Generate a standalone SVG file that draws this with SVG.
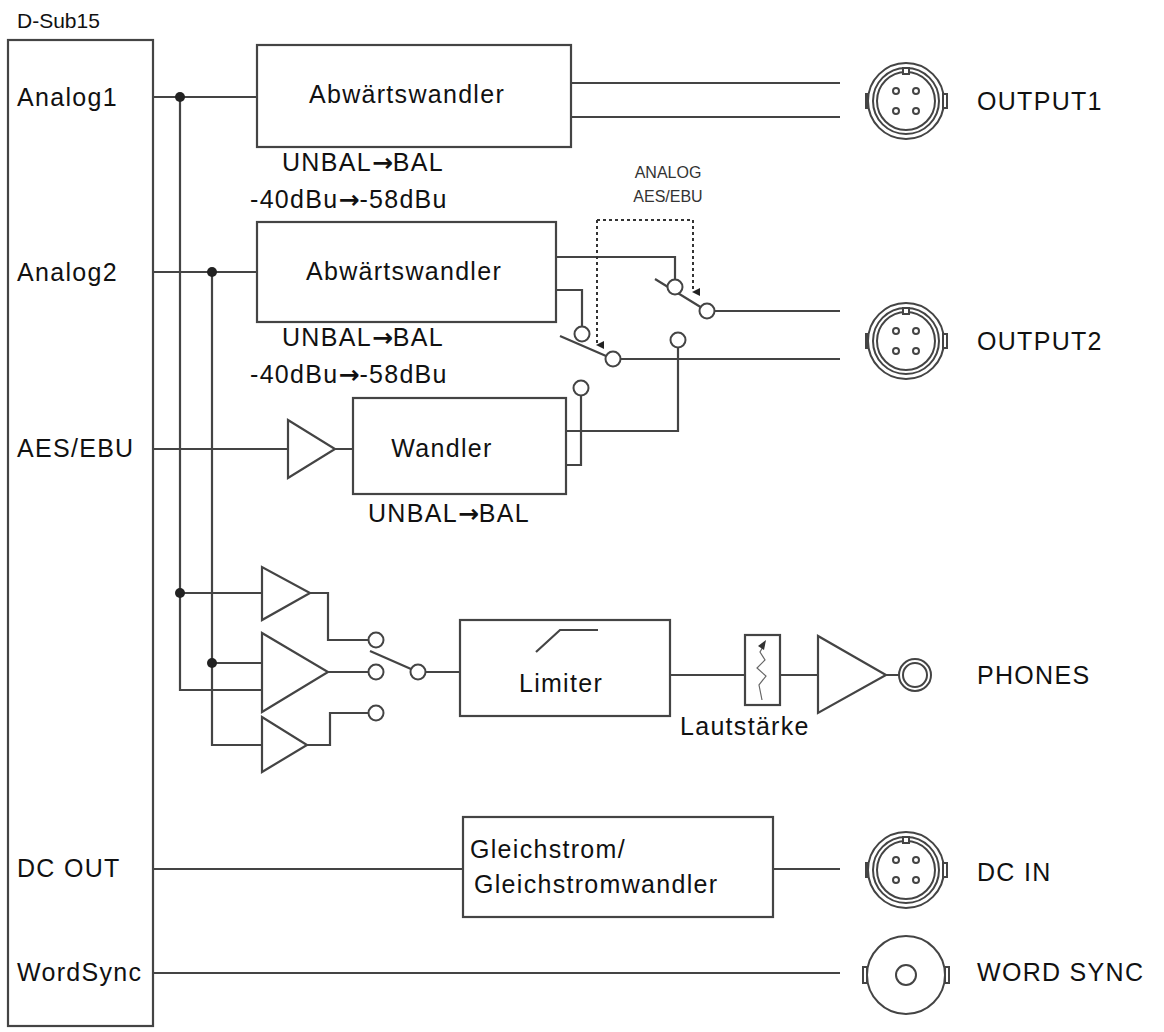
<svg xmlns="http://www.w3.org/2000/svg" width="1164" height="1032" viewBox="0 0 1164 1032">
<style>
.l{fill:none;stroke:#444;stroke-width:2.2}
.b{fill:#fff;stroke:#444;stroke-width:2.2}
.t{font-family:"Liberation Sans",Arial,sans-serif;font-size:25px;letter-spacing:1.3px;fill:#111}
.h{font-family:"Liberation Sans",Arial,sans-serif;font-size:21px;fill:#111}
.a{font-family:"DejaVu Sans",sans-serif;font-weight:bold;letter-spacing:0}
.s{font-family:"Liberation Sans",Arial,sans-serif;font-size:16px;fill:#333}
.c{fill:#fff;stroke:#444;stroke-width:2}
.d{fill:none;stroke:#333;stroke-width:2;stroke-dasharray:3 3}
</style>
<defs>
<marker id="ar" markerWidth="8" markerHeight="8" refX="4" refY="7" orient="auto" markerUnits="userSpaceOnUse" viewBox="0 0 8 8"><path d="M0,0 L8,0 L4,8 Z" fill="#222"/></marker>
<g id="xlr">
<circle r="38" class="c"/><circle r="33" class="c" stroke-width="1.5"/><circle r="29" class="c" stroke-width="1.2"/>
<rect x="-41" y="-8" width="4" height="16" fill="#444"/><rect x="37" y="-7" width="4" height="14" class="c" stroke-width="1.2"/>
<rect x="-3" y="-33" width="6" height="6" class="c" stroke-width="1.2"/>
<circle cx="-10" cy="-10" r="3" class="c" stroke-width="1.2"/><circle cx="10" cy="-10" r="3" class="c" stroke-width="1.2"/>
<circle cx="-10" cy="10" r="3" class="c" stroke-width="1.2"/><circle cx="10" cy="10" r="3" class="c" stroke-width="1.2"/>
</g>
</defs>
<g id="dsub">
<rect x="8" y="40" width="145" height="986" class="b"/>
<text x="17" y="28" class="h">D-Sub15</text>
<text x="17" y="106" class="t">Analog1</text>
<text x="17" y="281" class="t">Analog2</text>
<text x="17" y="457" class="t">AES/EBU</text>
<text x="17" y="877" class="t">DC OUT</text>
<text x="17" y="981" class="t">WordSync</text>
</g>
<g id="connectors">
<path class="l" d="M153,97H257 M180,97V690H262 M180,593H262 M153,272H257 M212,272V745H262 M212,663H262"/>
<circle cx="180" cy="97" r="5" fill="#222"/><circle cx="212" cy="272" r="5" fill="#222"/>
<circle cx="180" cy="593" r="5" fill="#222"/><circle cx="212" cy="663" r="5" fill="#222"/>
<path class="l" d="M571,83H840 M571,117H840"/>
<path class="l" d="M556,257H675V279 M556,290H582V327 M655,279L707,311 M715,311H840 M560,336L613,359 M621,359H840 M678,348V431H566 M581,396V465H566"/>
<path class="d" d="M597,220H693V292" marker-end="url(#ar)"/>
<path class="d" d="M597,220V345" marker-end="url(#ar)"/>
<path class="l" d="M153,449H288 M335,449H353"/>
<path class="l" d="M310,593H328V640H369 M328,672H369 M307,745H330V713H369 M370,651L411,669 M426,672H460 M670,675H745 M780,675H818 M886,675H899 M153,869H463 M773,869H840 M153,973H840"/>
</g>
<g id="switches">
<circle cx="675" cy="287" r="7.5" class="c"/><circle cx="707" cy="311" r="7.5" class="c"/>
<circle cx="582" cy="334" r="7.5" class="c"/><circle cx="613" cy="359" r="7.5" class="c"/>
<circle cx="678" cy="340" r="7.5" class="c"/><circle cx="581" cy="388" r="7.5" class="c"/>
<circle cx="376" cy="640" r="7.5" class="c"/><circle cx="376" cy="672" r="7.5" class="c"/><circle cx="376" cy="713" r="7.5" class="c"/><circle cx="418" cy="672" r="7.5" class="c"/>
<text x="668" y="178" class="s" text-anchor="middle">ANALOG</text>
<text x="668" y="202" class="s" text-anchor="middle">AES/EBU</text>
</g>
<g id="conv1"><rect x="257" y="45" width="314" height="102" class="b"/><text x="407" y="103" class="t" text-anchor="middle">Abwärtswandler</text>
<text x="282" y="171" class="t">UNBAL<tspan class="a">→</tspan>BAL</text><text x="250" y="208" class="t">-40dBu<tspan class="a">→</tspan>-58dBu</text></g>
<g id="conv2"><rect x="257" y="222" width="299" height="100" class="b"/><text x="404" y="280" class="t" text-anchor="middle">Abwärtswandler</text>
<text x="282" y="346" class="t">UNBAL<tspan class="a">→</tspan>BAL</text><text x="250" y="383" class="t">-40dBu<tspan class="a">→</tspan>-58dBu</text></g>
<g id="aesamp"><path class="b" d="M288,420V478L335,449Z"/></g>
<g id="wandler"><rect x="353" y="398" width="213" height="96" class="b"/><text x="442" y="457" class="t" text-anchor="middle">Wandler</text>
<text x="368" y="522" class="t">UNBAL<tspan class="a">→</tspan>BAL</text></g>
<g id="amps"><path class="b" d="M262,567V620L310,593Z M262,633V712L328,672Z M262,717V772L307,745Z"/></g>
<g id="limiter"><rect x="460" y="620" width="210" height="96" class="b"/><path class="l" d="M536,652L560,630H598"/><text x="561" y="692" class="t" text-anchor="middle">Limiter</text></g>
<g id="volume"><rect x="745" y="635" width="35" height="70" class="b"/><path d="M762,700L759,685L766,676L757,668L765,660L760,652L764,645" fill="none" stroke="#666" stroke-width="1.2"/><path d="M758,646L766,640L764,650Z" fill="#333"/>
<text x="680" y="735" class="t">Lautstärke</text></g>
<g id="phonesamp"><path class="b" d="M818,636V713L886,675Z"/></g>
<g id="phones"><circle cx="915" cy="675" r="16" class="c" stroke-width="2.5"/><circle cx="915" cy="675" r="12" class="c" stroke-width="1.2"/><text x="977" y="684" class="t">PHONES</text></g>
<g id="output1"><use href="#xlr" x="906" y="101"/><text x="977" y="110" class="t">OUTPUT1</text></g>
<g id="output2"><use href="#xlr" x="906" y="341"/><text x="977" y="350" class="t">OUTPUT2</text></g>
<g id="dcdc"><rect x="463" y="817" width="310" height="100" class="b"/><text x="470" y="858" class="t">Gleichstrom/</text><text x="474" y="893" class="t">Gleichstromwandler</text></g>
<g id="dcin"><use href="#xlr" x="906" y="870"/><text x="977" y="881" class="t">DC IN</text></g>
<g id="wordsync"><circle cx="906" cy="975" r="39" class="c"/><rect x="863" y="967" width="4" height="16" class="c" stroke-width="1.2"/><rect x="945" y="967" width="4" height="16" class="c" stroke-width="1.2"/><circle cx="906" cy="975" r="10" class="c" stroke-width="1.2"/><text x="977" y="981" class="t">WORD SYNC</text></g>
</svg>
